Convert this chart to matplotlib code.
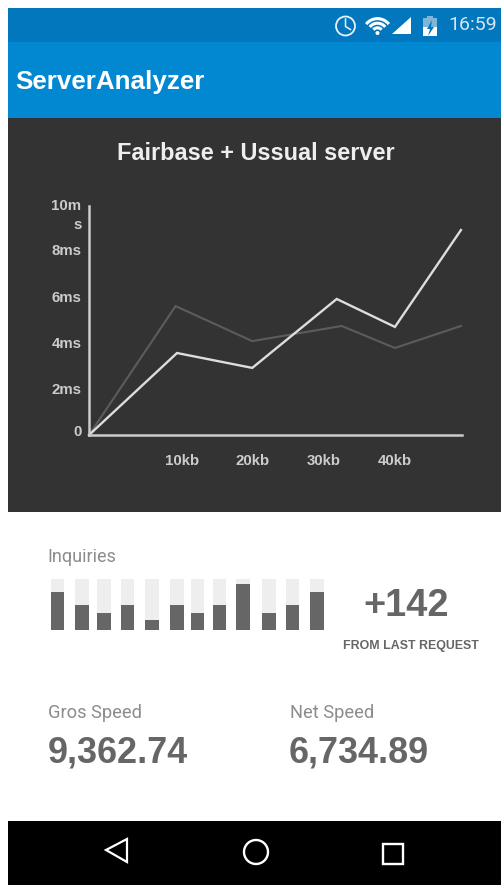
import matplotlib
matplotlib.use("Agg")
import matplotlib.pyplot as plt
from matplotlib.patches import Rectangle, Circle, Polygon, Arc
from matplotlib.transforms import ScaledTranslation

W, H = 502, 885

# chart values
kb_bright = [-3.1, 9.3, 19.9, 31.8, 40.0, 49.3]
ms_bright = [0, 3.58, 2.93, 5.94, 4.72, 8.95]
kb_dim = [-3.1, 9.1, 19.9, 32.5, 40.0, 49.3]
ms_dim = [0, 5.63, 4.10, 4.76, 3.80, 4.76]
x_ticks = [10, 20, 30, 40]
x_labels = ["10kb", "20kb", "30kb", "40kb"]
y_ticks = [0, 2, 4, 6, 8, 10]
y_labels = ["0", "2ms", "4ms", "6ms", "8ms", "10m\ns"]
y_label_shift = [4, 1, 1, 1, 2, -5]

inquiries = [74, 49, 33, 49, 19, 49, 33, 49, 90, 33, 49, 74]
bar_x = [57.5, 82, 104, 127.5, 152, 177, 197.5, 219.5, 243, 269, 292.5, 317]

BOLD = "Liberation Sans"
REG = "Roboto"


def px(size):
    return size * 0.72


def axes_px(left, top, right, bottom):
    return fig.add_axes([left / W, 1 - bottom / H, (right - left) / W, (bottom - top) / H])


fig = plt.figure(figsize=(W / 100, H / 100), dpi=100, facecolor="white")

# screen frame, drawn in pixel coordinates
bg = fig.add_axes([0, 0, 1, 1])
bg.set_xlim(0, W)
bg.set_ylim(H, 0)
bg.axis("off")
bg.add_patch(Rectangle((8, 8), W - 8, 34, color="#0277BD", lw=0))
bg.add_patch(Rectangle((8, 42), W - 8, 76, color="#0288D1", lw=0))
bg.add_patch(Rectangle((8, 118), W - 8, 394, color="#333333", lw=0))
bg.add_patch(Rectangle((8, 821), W - 8, 64, color="black", lw=0))

# status bar icons
bg.add_patch(Circle((345.5, 26), 9.5, fill=False, ec="#e8f2f8", lw=1.3))
bg.plot([345.5, 345.5, 350.5], [19, 26.5, 29.5], color="#e8f2f8", lw=1.1)
for d in [9, 17, 25]:
    bg.add_patch(Arc((377.5, 33), d * 1.15, d * 1.15, theta1=218, theta2=322, color="white", lw=2.2))
bg.add_patch(Circle((377.5, 33), 2, color="white", lw=0))
bg.add_patch(Polygon([(392, 34), (411, 34), (411, 17)], color="white", lw=0))
bg.add_patch(Rectangle((423, 18), 14, 18, color="#7fb6d8", lw=0))
bg.add_patch(Rectangle((427, 16), 6, 2, color="#7fb6d8", lw=0))
bg.add_patch(Rectangle((423, 27), 14, 9, color="white", lw=0))
bg.add_patch(Polygon([(432, 20), (427, 29), (430, 29), (428, 36), (434, 27), (431, 27)], color="#0277BD", lw=0))
bg.text(448, 25.5, "16:59", family=REG, fontsize=px(19.5), color="#d5e6f1", va="center", ha="left")

bg.text(15, 81.5, "ServerAnalyzer", family=BOLD, weight="bold", fontsize=px(26), color="white", va="center")
bg.text(256, 153.5, "Fairbase + Ussual server", family=BOLD, weight="bold", fontsize=px(23.5),
        color="#eeeeee", va="center", ha="center")

# line chart
ax = axes_px(89, 206, 462, 435)
ax.patch.set_alpha(0)
ax.plot(kb_dim, ms_dim, color="#5c5c5c", lw=1.5, solid_joinstyle="miter", clip_on=False)
ax.plot(kb_bright, ms_bright, color="#dddddd", lw=1.7, solid_joinstyle="miter", clip_on=False)
ax.set_xlim(-3.1, 49.45)
ax.set_ylim(0, 10)
ax.set_xticks(x_ticks, x_labels)
ax.set_yticks(y_ticks, y_labels)
ax.tick_params(length=0, colors="#cccccc", labelsize=px(15), pad=5.5)
ax.tick_params(axis="x", pad=14)
for lab in ax.get_xticklabels() + ax.get_yticklabels():
    lab.set_fontfamily(BOLD)
    lab.set_fontweight("bold")
for lab, shift in zip(ax.get_yticklabels(), y_label_shift):
    lab.set_transform(lab.get_transform() + ScaledTranslation(0, shift / 100, fig.dpi_scale_trans))
    lab.set_linespacing(1.5)
for side in ["top", "right"]:
    ax.spines[side].set_visible(False)
for side in ["left", "bottom"]:
    ax.spines[side].set_color("#cccccc")
    ax.spines[side].set_linewidth(1.8)

# inquiries bars
bars = axes_px(40, 579.3, 330, 630)
bars.axis("off")
bars.set_xlim(40, 330)
bars.set_ylim(0, 100)
bars.bar(bar_x, [100] * len(bar_x), width=13.7, color="#eeeeee")
bars.bar(bar_x, inquiries, width=13.7, color="#666666")

bg.text(47.5, 557, "Inquiries", family=REG, fontsize=px(18), color="#8c8c8c", va="center")
bg.text(406, 606, "+142", family=BOLD, weight="bold", fontsize=px(38), color="#666666", va="center", ha="center")
bg.text(410.5, 646, "FROM LAST REQUEST", family=BOLD, weight="bold", fontsize=px(12.4), color="#666666",
        va="center", ha="center")
bg.text(48, 713, "Gros Speed", family=REG, fontsize=px(18.3), color="#8c8c8c", va="center")
bg.text(290, 713, "Net Speed", family=REG, fontsize=px(18.3), color="#8c8c8c", va="center")
bg.text(48, 753.5, "9,362.74", family=BOLD, weight="bold", fontsize=px(36), color="#666666", va="center")
bg.text(289, 753.5, "6,734.89", family=BOLD, weight="bold", fontsize=px(36), color="#666666", va="center")

# navigation buttons
bg.add_patch(Polygon([(106, 850), (127, 839), (127, 862)], fill=False, ec="white", lw=1.6))
bg.add_patch(Circle((256, 852), 12, fill=False, ec="white", lw=1.7))
bg.add_patch(Rectangle((383.5, 843.5), 19.5, 20, fill=False, ec="white", lw=1.7))

fig.savefig("out.png", dpi=100, facecolor="white")
